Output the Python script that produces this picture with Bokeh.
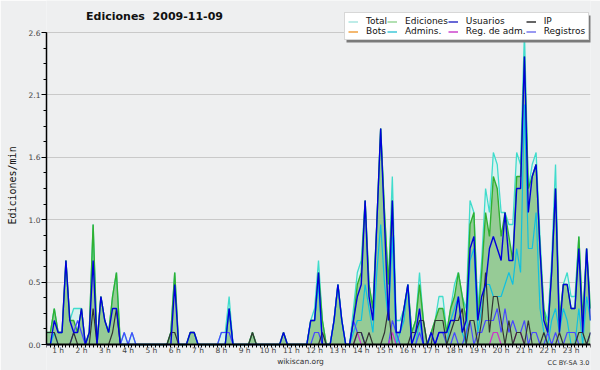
from bokeh.plotting import figure
from bokeh.models import (Range1d, FixedTicker, Legend, LegendItem, Label, BoxAnnotation,
                          PrintfTickFormatter, CustomJSTickFormatter, ColumnDataSource)
from bokeh.embed import file_html
from bokeh.resources import INLINE

# ---------------- data (edits per minute, 10-minute bins) ----------------
title_text = "Ediciones\u00a0 2009-11-09"
y_label = "Ediciones/min"
footer_left = "wikiscan.org"
footer_right = "CC BY-SA 3.0"
hour_labels = ["1 h", "2 h", "3 h", "4 h", "5 h", "6 h", "7 h", "8 h", "9 h", "10 h",
               "11 h", "12 h", "13 h", "14 h", "15 h", "16 h", "17 h", "18 h", "19 h",
               "20 h", "21 h", "22 h", "23 h"]
y_ticks = [0.0, 0.52, 1.04, 1.56, 2.08, 2.6]

legend_names = ["Total", "Ediciones", "Usuarios", "IP",
                "Bots", "Admins.", "Reg. de adm.", "Registros"]
legend_colors = ["#a8e6e0", "#99d699", "#3636c8", "#333333",
                 "#f0a040", "#40c8d8", "#cc44cc", "#7777ee"]

total = [0.1, 0.1, 0.3, 0.1, 0.1, 0.7,
         0.2, 0.3, 0.3, 0.3, 0.0, 0.1,
         1.0, 0.0, 0.4, 0.2, 0.1, 0.4,
         0.6, 0.0, 0.1, 0.0, 0.1, 0.0,
         0.0, 0.0, 0.0, 0.0, 0.0, 0.0,
         0.0, 0.0, 0.1, 0.6, 0.0, 0.0,
         0.0, 0.1, 0.1, 0.0, 0.0, 0.0,
         0.0, 0.0, 0.0, 0.1, 0.1, 0.4,
         0.0, 0.0, 0.0, 0.0, 0.0, 0.1,
         0.0, 0.0, 0.0, 0.0, 0.0, 0.0,
         0.0, 0.1, 0.0, 0.0, 0.0, 0.0,
         0.0, 0.0, 0.2, 0.3, 0.7, 0.2,
         0.0, 0.0, 0.2, 0.5, 0.2, 0.0,
         0.0, 0.3, 0.6, 0.7, 1.2, 0.5,
         0.3, 1.0, 1.8, 1.1, 0.5, 1.4,
         0.2, 0.2, 0.3, 0.5, 0.1, 0.2,
         0.6, 0.2, 0.0, 0.1, 0.2, 0.4,
         0.4, 0.1, 0.3, 0.5, 0.6, 0.4,
         0.3, 1.2, 1.1, 0.3, 0.7, 1.3,
         1.1, 1.6, 1.5, 1.1, 1.1, 1.0,
         1.0, 1.6, 1.5, 2.6, 1.3, 1.5,
         1.6, 0.9, 0.3, 0.2, 0.7, 1.5,
         0.2, 0.5, 0.6, 0.4, 0.4, 0.9,
         0.2, 0.8, 0.3]

ediciones = [0.1, 0.1, 0.3, 0.1, 0.1, 0.7,
             0.2, 0.2, 0.1, 0.3, 0.0, 0.1,
             1.0, 0.0, 0.4, 0.2, 0.1, 0.4,
             0.6, 0.0, 0.0, 0.0, 0.0, 0.0,
             0.0, 0.0, 0.0, 0.0, 0.0, 0.0,
             0.0, 0.0, 0.1, 0.6, 0.0, 0.0,
             0.0, 0.1, 0.1, 0.0, 0.0, 0.0,
             0.0, 0.0, 0.0, 0.0, 0.0, 0.3,
             0.0, 0.0, 0.0, 0.0, 0.0, 0.1,
             0.0, 0.0, 0.0, 0.0, 0.0, 0.0,
             0.0, 0.1, 0.0, 0.0, 0.0, 0.0,
             0.0, 0.0, 0.2, 0.2, 0.6, 0.2,
             0.0, 0.0, 0.2, 0.5, 0.2, 0.0,
             0.0, 0.2, 0.5, 0.6, 1.2, 0.5,
             0.3, 1.0, 1.8, 1.1, 0.5, 1.2,
             0.1, 0.1, 0.3, 0.5, 0.1, 0.2,
             0.5, 0.2, 0.0, 0.1, 0.2, 0.3,
             0.3, 0.1, 0.3, 0.4, 0.6, 0.4,
             0.2, 1.0, 1.1, 0.2, 0.6, 1.1,
             0.9, 1.4, 1.3, 0.9, 1.1, 0.9,
             0.7, 1.4, 1.4, 2.4, 1.3, 1.4,
             1.5, 0.8, 0.3, 0.1, 0.6, 1.3,
             0.2, 0.5, 0.5, 0.3, 0.3, 0.9,
             0.2, 0.8, 0.3]

usuarios = [0.0, 0.0, 0.2, 0.1, 0.1, 0.7,
            0.2, 0.1, 0.1, 0.3, 0.0, 0.1,
            0.7, 0.0, 0.4, 0.2, 0.1, 0.3,
            0.3, 0.0, 0.0, 0.0, 0.0, 0.0,
            0.0, 0.0, 0.0, 0.0, 0.0, 0.0,
            0.0, 0.0, 0.0, 0.5, 0.0, 0.0,
            0.0, 0.1, 0.1, 0.0, 0.0, 0.0,
            0.0, 0.0, 0.0, 0.0, 0.0, 0.3,
            0.0, 0.0, 0.0, 0.0, 0.0, 0.0,
            0.0, 0.0, 0.0, 0.0, 0.0, 0.0,
            0.0, 0.1, 0.0, 0.0, 0.0, 0.0,
            0.0, 0.0, 0.2, 0.2, 0.6, 0.0,
            0.0, 0.0, 0.2, 0.5, 0.2, 0.0,
            0.0, 0.2, 0.4, 0.5, 1.2, 0.4,
            0.2, 1.0, 1.8, 1.0, 0.2, 1.2,
            0.1, 0.1, 0.3, 0.5, 0.0, 0.1,
            0.3, 0.0, 0.0, 0.1, 0.0, 0.1,
            0.1, 0.1, 0.2, 0.2, 0.4, 0.1,
            0.2, 0.8, 0.9, 0.2, 0.4, 0.5,
            0.8, 0.9, 0.8, 0.7, 1.1, 0.7,
            0.7, 1.3, 1.3, 2.4, 1.1, 1.4,
            1.5, 0.8, 0.2, 0.1, 0.6, 1.3,
            0.1, 0.5, 0.5, 0.3, 0.3, 0.8,
            0.1, 0.8, 0.2]

ip = [0.1, 0.1, 0.1, 0.0, 0.0, 0.0,
      0.0, 0.1, 0.0, 0.0, 0.0, 0.0,
      0.3, 0.0, 0.0, 0.0, 0.0, 0.1,
      0.3, 0.0, 0.0, 0.0, 0.0, 0.0,
      0.0, 0.0, 0.0, 0.0, 0.0, 0.0,
      0.0, 0.0, 0.1, 0.1, 0.0, 0.0,
      0.0, 0.0, 0.0, 0.0, 0.0, 0.0,
      0.0, 0.0, 0.0, 0.0, 0.0, 0.0,
      0.0, 0.0, 0.0, 0.0, 0.0, 0.1,
      0.0, 0.0, 0.0, 0.0, 0.0, 0.0,
      0.0, 0.0, 0.0, 0.0, 0.0, 0.0,
      0.0, 0.0, 0.0, 0.0, 0.0, 0.1,
      0.0, 0.0, 0.0, 0.0, 0.0, 0.0,
      0.0, 0.0, 0.1, 0.1, 0.0, 0.1,
      0.0, 0.0, 0.0, 0.1, 0.3, 0.0,
      0.0, 0.0, 0.0, 0.0, 0.1, 0.1,
      0.2, 0.2, 0.0, 0.0, 0.2, 0.2,
      0.2, 0.0, 0.1, 0.2, 0.2, 0.3,
      0.0, 0.2, 0.2, 0.0, 0.2, 0.6,
      0.1, 0.4, 0.4, 0.2, 0.0, 0.2,
      0.0, 0.1, 0.1, 0.0, 0.2, 0.0,
      0.0, 0.0, 0.1, 0.0, 0.0, 0.0,
      0.1, 0.0, 0.0, 0.0, 0.0, 0.1,
      0.1, 0.0, 0.1]

bots = [0.0] * len(total)

admins = [0.0, 0.0, 0.1, 0.0, 0.0, 0.0,
          0.0, 0.0, 0.0, 0.0, 0.0, 0.0,
          0.0, 0.0, 0.0, 0.0, 0.0, 0.0,
          0.0, 0.0, 0.0, 0.0, 0.0, 0.0,
          0.0, 0.0, 0.0, 0.0, 0.0, 0.0,
          0.0, 0.0, 0.0, 0.0, 0.0, 0.0,
          0.0, 0.0, 0.0, 0.0, 0.0, 0.0,
          0.0, 0.0, 0.0, 0.0, 0.0, 0.3,
          0.0, 0.0, 0.0, 0.0, 0.0, 0.0,
          0.0, 0.0, 0.0, 0.0, 0.0, 0.0,
          0.0, 0.0, 0.0, 0.0, 0.0, 0.0,
          0.0, 0.0, 0.2, 0.2, 0.5, 0.0,
          0.0, 0.0, 0.2, 0.5, 0.2, 0.0,
          0.0, 0.1, 0.2, 0.2, 0.5, 0.3,
          0.1, 0.6, 1.0, 0.5, 0.2, 0.9,
          0.0, 0.1, 0.2, 0.5, 0.0, 0.0,
          0.2, 0.0, 0.0, 0.0, 0.0, 0.0,
          0.0, 0.0, 0.2, 0.3, 0.4, 0.1,
          0.0, 0.7, 0.8, 0.1, 0.3, 0.5,
          0.5, 0.4, 0.4, 0.4, 0.5, 0.6,
          0.5, 0.8, 0.6, 2.0, 0.8, 0.8,
          1.1, 0.3, 0.1, 0.0, 0.2, 0.3,
          0.1, 0.3, 0.2, 0.0, 0.0, 0.3,
          0.0, 0.4, 0.2]

reg_adm = [0.0, 0.0, 0.0, 0.0, 0.0, 0.0,
           0.0, 0.0, 0.0, 0.0, 0.0, 0.0,
           0.0, 0.0, 0.0, 0.0, 0.0, 0.0,
           0.0, 0.0, 0.0, 0.0, 0.0, 0.0,
           0.0, 0.0, 0.0, 0.0, 0.0, 0.0,
           0.0, 0.0, 0.0, 0.0, 0.0, 0.0,
           0.0, 0.0, 0.0, 0.0, 0.0, 0.0,
           0.0, 0.0, 0.0, 0.0, 0.0, 0.0,
           0.0, 0.0, 0.0, 0.0, 0.0, 0.0,
           0.0, 0.0, 0.0, 0.0, 0.0, 0.0,
           0.0, 0.0, 0.0, 0.0, 0.0, 0.0,
           0.0, 0.0, 0.0, 0.0, 0.0, 0.0,
           0.0, 0.0, 0.0, 0.0, 0.0, 0.0,
           0.0, 0.0, 0.1, 0.0, 0.0, 0.0,
           0.0, 0.0, 0.0, 0.0, 0.0, 0.1,
           0.0, 0.0, 0.0, 0.0, 0.0, 0.0,
           0.0, 0.0, 0.0, 0.0, 0.0, 0.0,
           0.0, 0.0, 0.0, 0.0, 0.0, 0.0,
           0.0, 0.0, 0.0, 0.0, 0.0, 0.0,
           0.0, 0.1, 0.1, 0.0, 0.0, 0.0,
           0.0, 0.1, 0.1, 0.0, 0.0, 0.0,
           0.0, 0.0, 0.0, 0.0, 0.0, 0.0,
           0.0, 0.0, 0.0, 0.0, 0.0, 0.0,
           0.0, 0.0, 0.0]

registros = [0.0, 0.0, 0.0, 0.0, 0.0, 0.0,
             0.0, 0.1, 0.2, 0.1, 0.0, 0.0,
             0.0, 0.0, 0.0, 0.0, 0.0, 0.0,
             0.0, 0.0, 0.1, 0.0, 0.1, 0.0,
             0.0, 0.0, 0.0, 0.0, 0.0, 0.0,
             0.0, 0.0, 0.0, 0.0, 0.0, 0.0,
             0.0, 0.0, 0.0, 0.0, 0.0, 0.0,
             0.0, 0.0, 0.0, 0.1, 0.1, 0.1,
             0.0, 0.0, 0.0, 0.0, 0.0, 0.0,
             0.0, 0.0, 0.0, 0.0, 0.0, 0.0,
             0.0, 0.0, 0.0, 0.0, 0.0, 0.0,
             0.0, 0.0, 0.0, 0.1, 0.1, 0.0,
             0.0, 0.0, 0.0, 0.0, 0.0, 0.0,
             0.0, 0.2, 0.1, 0.1, 0.0, 0.0,
             0.0, 0.0, 0.0, 0.0, 0.0, 0.2,
             0.1, 0.0, 0.0, 0.0, 0.0, 0.0,
             0.1, 0.0, 0.0, 0.0, 0.0, 0.1,
             0.1, 0.0, 0.0, 0.1, 0.0, 0.0,
             0.1, 0.2, 0.0, 0.1, 0.1, 0.2,
             0.2, 0.2, 0.3, 0.1, 0.3, 0.1,
             0.2, 0.1, 0.1, 0.2, 0.0, 0.1,
             0.1, 0.0, 0.0, 0.1, 0.0, 0.1,
             0.0, 0.0, 0.1, 0.1, 0.1, 0.0,
             0.0, 0.0, 0.1]

# ---------------- figure ----------------
FONT = "DejaVu Sans"
BG = "#eeeff0"
W, H = 600, 370
LEFT, RIGHT = 46, 10          # frame edges (px)
TOP_PX, BOTTOM_PX = 32, 26    # room above the top tick / below zero inside the frame
ppu = (H - TOP_PX - BOTTOM_PX) / (y_ticks[-1] - y_ticks[0])   # px per y unit
ppb = (W - LEFT - RIGHT) / (len(total) - 1)                   # px per bin

bins = list(range(len(total)))
src = ColumnDataSource(dict(x=bins, total=total, ediciones=ediciones, usuarios=usuarios,
                            ip=ip, bots=bots, admins=admins, reg_adm=reg_adm,
                            registros=registros))

p = figure(width=W, height=H, output_backend="svg", toolbar_location=None,
           x_range=Range1d(0, len(total) - 1),
           y_range=Range1d(y_ticks[0] - BOTTOM_PX / ppu, y_ticks[-1] + TOP_PX / ppu),
           min_border_left=LEFT, min_border_right=RIGHT,
           min_border_top=0, min_border_bottom=0)
p.background_fill_color = BG
p.border_fill_color = BG
p.outline_line_color = None

# fills
p.varea(x="x", y1=0, y2="total", source=src, fill_color="#d9f1ef")
p.varea(x="x", y1=0, y2="ediciones", source=src, fill_color="#96cb96")
# lines
p.line("x", "total", source=src, line_color="#40dccc", line_width=1.3)
p.line("x", "ediciones", source=src, line_color="#30b030", line_width=1.4)
p.line("x", "bots", source=src, line_color="#f0a040", line_width=1.0, line_alpha=0)
p.line("x", "admins", source=src, line_color="#10c0e0", line_width=1.2)
p.line("x", "registros", source=src, line_color="#4848ff", line_width=1.2)
p.line("x", "reg_adm", source=src, line_color="#cc33cc", line_width=1.2)
p.line("x", "ip", source=src, line_color="#333333", line_width=1.2)
p.line("x", "usuarios", source=src, line_color="#0000dd", line_width=1.4)

# x axis: drawn at y = 0, a tick every 10 minutes, hour labels mid-hour
p.xaxis.fixed_location = 0
p.xaxis.ticker = FixedTicker(ticks=bins)
p.xaxis.formatter = CustomJSTickFormatter(
    args=dict(labels=hour_labels),
    code="const k = (tick - 3) / 6; return (Number.isInteger(k) && k >= 0 && k < labels.length) ? labels[k] : '';")
p.xaxis.axis_line_width = 2
p.xaxis.axis_line_color = "black"
p.xaxis.major_tick_line_color = "black"
p.xaxis.major_tick_out = 3
p.xaxis.major_tick_in = 0
p.xaxis.minor_tick_line_color = None
p.xaxis.major_label_standoff = -2
p.xaxis.major_label_text_font = FONT
p.xaxis.major_label_text_font_size = "7.5px"
p.xaxis.major_label_text_color = "#444444"
p.xgrid.visible = False

# y axis
minor = [y_ticks[0] + j * (y_ticks[1] - y_ticks[0]) / 4 for j in range(21)]
p.yaxis.bounds = (y_ticks[0], y_ticks[-1])
p.yaxis.ticker = FixedTicker(ticks=y_ticks, minor_ticks=minor)
p.yaxis.formatter = PrintfTickFormatter(format="%.1f")
p.yaxis.axis_line_color = "black"
p.yaxis.axis_line_width = 1.5
p.yaxis.major_tick_out = 5
p.yaxis.major_tick_in = 0
p.yaxis.minor_tick_out = 3
p.yaxis.minor_tick_in = 0
p.yaxis.major_tick_line_color = "black"
p.yaxis.minor_tick_line_color = "black"
p.yaxis.major_label_standoff = 1
p.yaxis.major_label_text_font = FONT
p.yaxis.major_label_text_font_size = "7.5px"
p.yaxis.major_label_text_color = "#444444"
p.yaxis.axis_label = y_label
p.yaxis.axis_label_text_font = "DejaVu Sans Mono"
p.yaxis.axis_label_text_font_size = "10px"
p.yaxis.axis_label_text_font_style = "normal"
p.yaxis.axis_label_text_color = "#111111"
p.yaxis.axis_label_standoff = 8
p.ygrid.grid_line_color = "#c9c9c9"
p.ygrid.grid_line_width = 1

# legend shadow (page pixels converted to data units) + legend
def px_x(px):
    return (px - LEFT) / ppb

def px_y(py):
    return (H - BOTTOM_PX - py) / ppu

p.add_layout(BoxAnnotation(left=px_x(346), right=px_x(600), top=px_y(15), bottom=px_y(42),
                           fill_color="#7a7a7a", fill_alpha=1.0, line_color=None))
items = []
for name, col in zip(legend_names, legend_colors):
    r = p.line(x=[0, 1], y=[float("nan"), float("nan")], line_color=col, line_width=1.5)
    items.append(LegendItem(label=name, renderers=[r]))
legend = Legend(items=items, orientation="horizontal", ncols=4, location=(298, 330),
                label_text_font=FONT, label_text_font_size="9px", label_text_color="#111111",
                glyph_width=10, glyph_height=9, label_height=9, label_standoff=8,
                spacing=0, padding=3, margin=0,
                border_line_color="#b0b0b0", border_line_width=1,
                background_fill_color="white", background_fill_alpha=1.0)
p.add_layout(legend, "center")

# title and footers
p.add_layout(Label(x=108, y=354, x_units="screen", y_units="screen", text=title_text,
                   text_font=FONT, text_font_size="11px", text_font_style="bold",
                   text_align="center", text_baseline="middle", text_color="#111111"))
p.add_layout(Label(x=254, y=9, x_units="screen", y_units="screen", text=footer_left,
                   text_font=FONT, text_font_size="7.5px", text_align="center",
                   text_baseline="middle", text_color="#333333"))
p.add_layout(Label(x=543, y=8, x_units="screen", y_units="screen", text=footer_right,
                   text_font=FONT, text_font_size="6.5px", text_align="right",
                   text_baseline="middle", text_color="#333333"))

open("out.html", "w").write(file_html(p, INLINE))
